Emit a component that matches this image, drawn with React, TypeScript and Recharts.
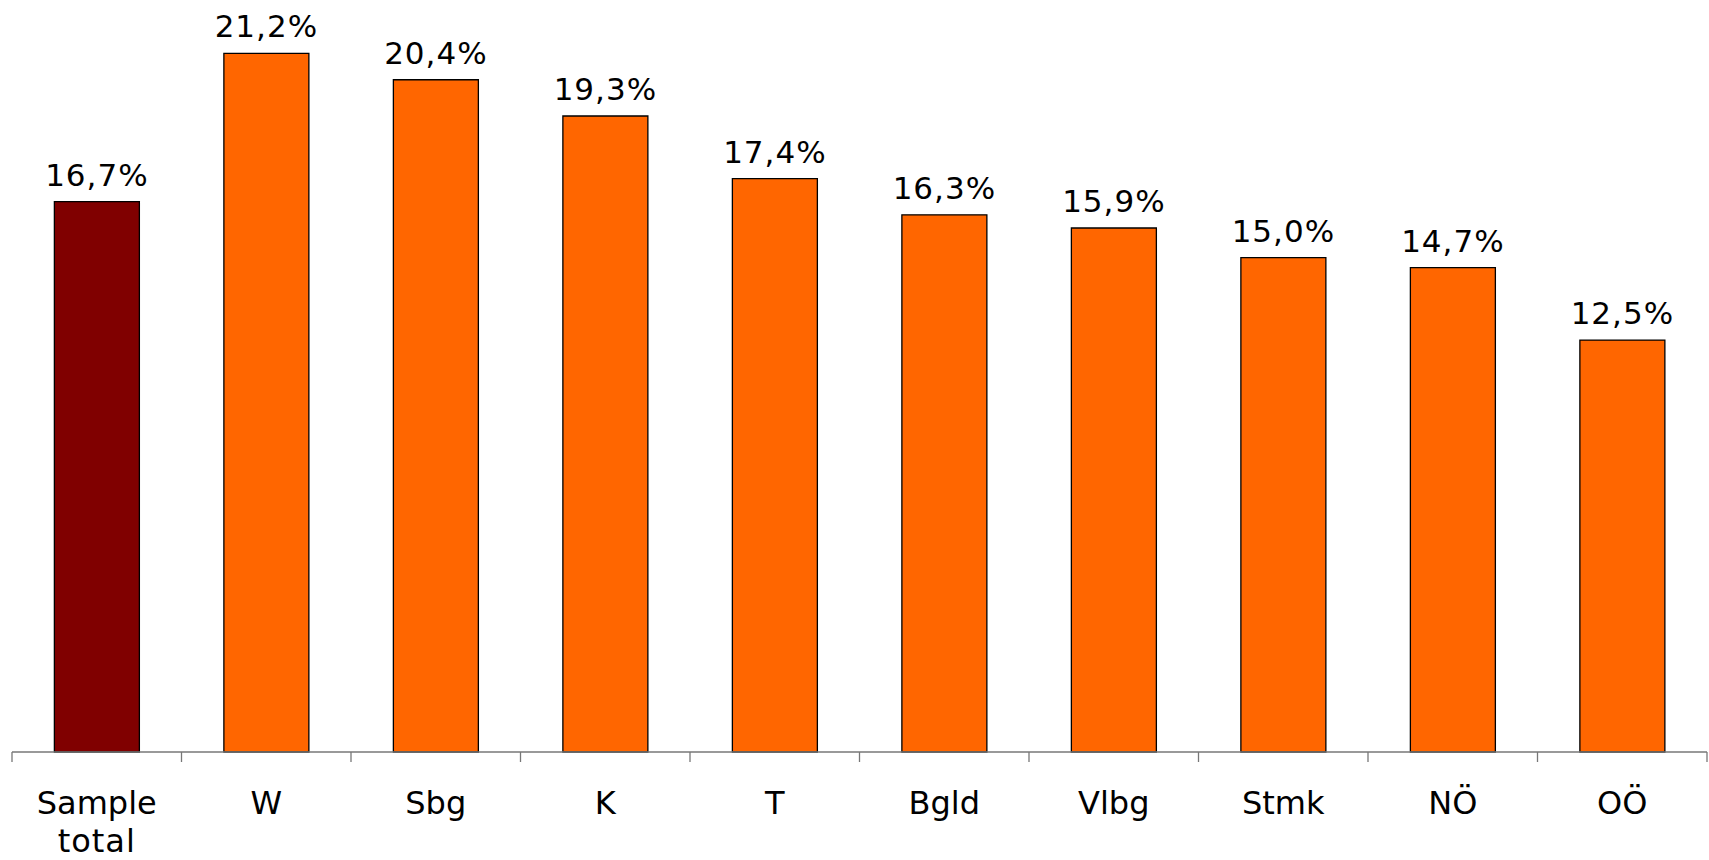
import React from 'react';
import { BarChart, Bar, XAxis, YAxis, Cell, LabelList } from 'recharts';

const categories = ['Sample total', 'W', 'Sbg', 'K', 'T', 'Bgld', 'Vlbg', 'Stmk', 'NÖ', 'OÖ'];
const values = [16.7, 21.2, 20.4, 19.3, 17.4, 16.3, 15.9, 15.0, 14.7, 12.5];
const barColors = ['#800000', '#FF6600', '#FF6600', '#FF6600', '#FF6600', '#FF6600', '#FF6600', '#FF6600', '#FF6600', '#FF6600'];

const data = categories.map((c, i) => ({ name: c, value: values[i] }));

const FONT = '"DejaVu Sans", Verdana, sans-serif';

const CustomTick = (props: any) => {
  const { x, y, payload, index } = props;
  const half = payload && typeof payload.offset === 'number' ? payload.offset : 0;
  const lines = String(payload.value).split(' ');
  const axisY = y - 10;
  return (
    <g>
      <line x1={x - half} y1={axisY} x2={x - half} y2={axisY + 10} stroke="#777" strokeWidth={1.3} />
      {index === categories.length - 1 && (
        <line x1={x + half} y1={axisY} x2={x + half} y2={axisY + 10} stroke="#777" strokeWidth={1.3} />
      )}
      <text x={x} y={axisY + 62} textAnchor="middle" fontSize={32} fontFamily={FONT} fill="#000">
        {lines.map((l, i) => (
          <tspan key={i} x={x} dy={i === 0 ? 0 : 38} letterSpacing={i === 0 ? 0 : 1}>{l}</tspan>
        ))}
      </text>
    </g>
  );
};

const fmt = (v: any) => Number(v).toFixed(1).replace('.', ',') + '%';

export default function App() {
  return (
    <div style={{ position: 'absolute', left: 0, top: 0, background: '#fff' }}>
      <BarChart
        width={1709}
        height={860}
        data={data}
        margin={{ top: 27, right: 2, left: 12, bottom: 0 }}
        barCategoryGap="25%"
      >
        <XAxis
          dataKey="name"
          height={108}
          interval={0}
          tickLine={false}
          tickSize={10}
          tickMargin={0}
          axisLine={{ stroke: '#777', strokeWidth: 1.3 }}
          tick={<CustomTick />}
        />
        <YAxis hide domain={[0, 22]} />
        <Bar dataKey="value" stroke="#000" strokeWidth={1.3} isAnimationActive={false}>
          {data.map((d, i) => (
            <Cell key={i} fill={barColors[i]} />
          ))}
          <LabelList
            dataKey="value"
            position="top"
            offset={16}
            formatter={fmt}
            style={{ fontSize: 31, fontFamily: FONT, fill: '#000', letterSpacing: 1 }}
          />
        </Bar>
      </BarChart>
    </div>
  );
}
